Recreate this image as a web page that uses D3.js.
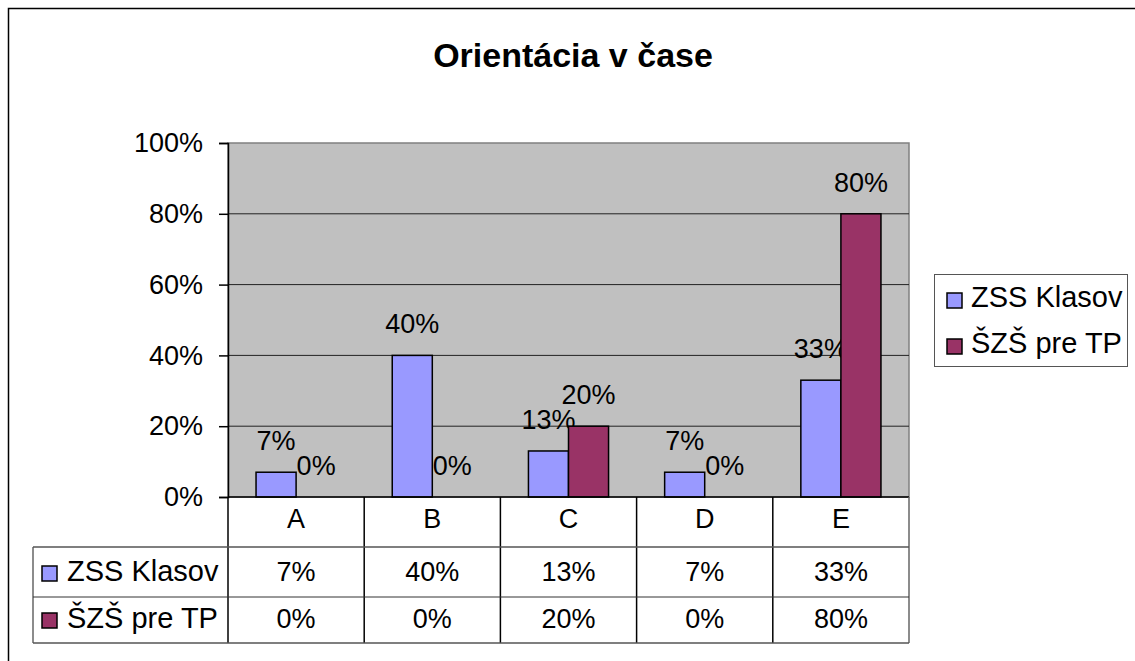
<!DOCTYPE html>
<html>
<head>
<meta charset="utf-8">
<script src="https://cdn.jsdelivr.net/npm/d3@7"></script>
<style>
  body { margin: 0; background: #fff; }
  svg text { font-family: "Liberation Sans", Arial, sans-serif; fill: #000; }
</style>
</head>
<body>
<div id="chart-area"></div>
<script>
// chart data
const categories = ["A", "B", "C", "D", "E"];
const seriesNames = ["ZSS Klasov", "ŠZŠ pre TP"];
const zssKlasov = [0.07, 0.40, 0.13, 0.07, 0.33];
const szsPreTP = [0.00, 0.00, 0.20, 0.00, 0.80];
const yTicks = [0, 0.2, 0.4, 0.6, 0.8, 1.0];
const colors = ["#9999ff", "#993366"];

const seriesValues = [zssKlasov, szsPreTP];
const fmt = d3.format(".0%");

const svg = d3.select('#chart-area').append('svg')
  .attr('width', 1135)
  .attr('height', 661);

// outer frame (runs off the right/bottom edge)
svg.append('rect')
  .attr('x', 8.5).attr('y', 8.5)
  .attr('width', 1200).attr('height', 700)
  .attr('fill', 'none').attr('stroke', '#000').attr('stroke-width', 1.5);

// title
svg.append('text')
  .attr('x', 573).attr('y', 67)
  .attr('text-anchor', 'middle')
  .attr('font-size', 34).attr('font-weight', 'bold')
  .text('Orientácia v čase');

const x0 = d3.scaleBand()
  .domain(categories)
  .range([228, 909]);

const x1 = d3.scaleBand()
  .domain(seriesNames)
  .range([0, x0.bandwidth()])
  .paddingOuter(0.7)
  .paddingInner(0);

const y = d3.scaleLinear()
  .domain([0, 1])
  .range([497, 143]);

// plot area
svg.append('rect')
  .attr('x', x0.range()[0]).attr('y', y(1))
  .attr('width', x0.range()[1] - x0.range()[0])
  .attr('height', y(0) - y(1))
  .attr('fill', '#c0c0c0')
  .attr('stroke', '#808080').attr('stroke-width', 1.5);

// gridlines
svg.selectAll('.grid')
  .data(yTicks.filter(t => t > 0 && t < 1))
  .enter().append('line')
    .attr('x1', x0.range()[0]).attr('x2', x0.range()[1])
    .attr('y1', d => y(d)).attr('y2', d => y(d))
    .attr('stroke', '#222').attr('stroke-width', 1);

// y axis
const yAxis = svg.append('g')
  .attr('transform', `translate(${x0.range()[0]},0)`)
  .call(d3.axisLeft(y).tickValues(yTicks).tickFormat(fmt).tickSize(9).tickPadding(16));
yAxis.select('.domain').attr('stroke', '#000').attr('stroke-width', 1.5);
yAxis.selectAll('.tick line').attr('stroke', '#000').attr('stroke-width', 1.5);
yAxis.selectAll('.tick text')
  .attr('font-size', 27)
  .attr('font-family', '"Liberation Sans", Arial, sans-serif')
  .attr('fill', '#000');

// bars
const groups = svg.selectAll('.cat')
  .data(categories)
  .enter().append('g')
    .attr('transform', d => `translate(${x0(d)},0)`);

groups.each(function(cat, i) {
  const g = d3.select(this);
  seriesNames.forEach((s, j) => {
    const v = seriesValues[j][i];
    if (v > 0) {
      g.append('rect')
        .attr('x', x1(s))
        .attr('y', y(v))
        .attr('width', x1.bandwidth())
        .attr('height', y(0) - y(v))
        .attr('fill', colors[j])
        .attr('stroke', '#000').attr('stroke-width', 1.5);
    }
    g.append('text')
      .attr('x', x1(s) + x1.bandwidth() / 2)
      .attr('y', y(v) - 22)
      .attr('text-anchor', 'middle')
      .attr('font-size', 27)
      .text(fmt(v));
  });
});

// x axis line
svg.append('line')
  .attr('x1', x0.range()[0]).attr('x2', x0.range()[1])
  .attr('y1', y(0)).attr('y2', y(0))
  .attr('stroke', '#000').attr('stroke-width', 1.5);

// data table
const rowTop = [547, 597];
const tableBottom = 643;
const tableLeft = 33;

// category header labels
svg.selectAll('.catlabel')
  .data(categories)
  .enter().append('text')
    .attr('x', d => x0(d) + x0.bandwidth() / 2)
    .attr('y', 528)
    .attr('text-anchor', 'middle')
    .attr('font-size', 27)
    .text(d => d);

// vertical table lines
svg.selectAll('.vline')
  .data(categories.concat(['end']))
  .enter().append('line')
    .attr('x1', d => d === 'end' ? x0.range()[1] : x0(d))
    .attr('x2', d => d === 'end' ? x0.range()[1] : x0(d))
    .attr('y1', y(0)).attr('y2', tableBottom)
    .attr('stroke', d => d === 'end' ? '#666' : '#000').attr('stroke-width', 1.5);

svg.append('line')
  .attr('x1', tableLeft).attr('x2', tableLeft)
  .attr('y1', rowTop[0]).attr('y2', tableBottom)
  .attr('stroke', '#666').attr('stroke-width', 1.5);

[rowTop[0], rowTop[1], tableBottom].forEach((yy, k) => {
  svg.append('line')
    .attr('x1', tableLeft).attr('x2', x0.range()[1])
    .attr('y1', yy).attr('y2', yy)
    .attr('stroke', k === 1 ? '#333' : '#555').attr('stroke-width', k === 1 ? 1 : 1.5);
});

seriesNames.forEach((s, j) => {
  const base = rowTop[j] + (j === 0 ? 34 : 31);
  svg.append('rect')
    .attr('x', 42).attr('y', base - 15)
    .attr('width', 15).attr('height', 15)
    .attr('fill', colors[j]).attr('stroke', '#000').attr('stroke-width', 1.5);
  svg.append('text')
    .attr('x', 67).attr('y', base)
    .attr('font-size', 29)
    .text(s);
  categories.forEach((c, i) => {
    svg.append('text')
      .attr('x', x0(c) + x0.bandwidth() / 2)
      .attr('y', base)
      .attr('text-anchor', 'middle')
      .attr('font-size', 27)
      .text(fmt(seriesValues[j][i]));
  });
});

// legend
const legend = svg.append('g').attr('transform', 'translate(934,274)');
legend.append('rect')
  .attr('x', 0.5).attr('y', 0.5)
  .attr('width', 193).attr('height', 92)
  .attr('fill', '#fff').attr('stroke', '#555').attr('stroke-width', 1);
seriesNames.forEach((s, j) => {
  const base = 33 + j * 46;
  legend.append('rect')
    .attr('x', 13).attr('y', base - 14)
    .attr('width', 15).attr('height', 15)
    .attr('fill', colors[j]).attr('stroke', '#000').attr('stroke-width', 1.5);
  legend.append('text')
    .attr('x', 37).attr('y', base)
    .attr('font-size', 29)
    .text(s);
});
</script>
</body>
</html>
